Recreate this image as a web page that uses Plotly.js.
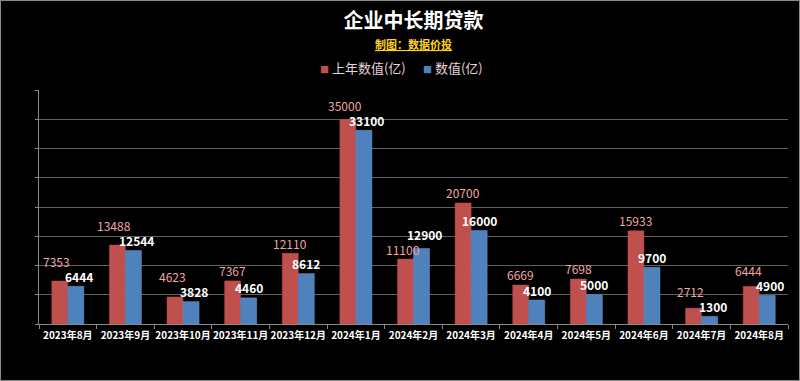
<!DOCTYPE html>
<html>
<head>
<meta charset="utf-8">
<script src="https://cdn.plot.ly/plotly-3.0.1.min.js"></script>
<style>
  html, body { margin: 0; padding: 0; background: #000; }
  #frame { width: 800px; height: 381px; box-sizing: border-box; border: 1px solid #8a8a8a; background: #000; }
  #chart { width: 798px; height: 379px; }
</style>
</head>
<body>
<div id="frame"><div id="chart"></div></div>
<script>
const categories = ["2023年8月","2023年9月","2023年10月","2023年11月","2023年12月","2024年1月","2024年2月","2024年3月","2024年4月","2024年5月","2024年6月","2024年7月","2024年8月"];
const lastYearValues = [7353, 13488, 4623, 7367, 12110, 35000, 11100, 20700, 6669, 7698, 15933, 2712, 6444];
const currentValues = [6444, 12544, 3828, 4460, 8612, 33100, 12900, 16000, 4100, 5000, 9700, 1300, 4900];
const seriesNames = ["上年数值(亿)", "数值(亿)"];
const seriesColors = ['#C0504D', '#4F81BD'];

const cjk = '"Noto Sans CJK SC", "Noto Sans", sans-serif';

const W = 798, H = 379;
const M = { l: 38, r: 11, t: 89, b: 56 };
const yMax = 40000;
const plotH = H - M.t - M.b;
const pxPerUnit = plotH / yMax;

const traces = [
  {
    type: 'bar', name: seriesNames[0], x: categories, y: lastYearValues,
    marker: { color: seriesColors[0], line: { color: '#B54A47', width: 0.5 } },
    showlegend: false, hoverinfo: 'none'
  },
  {
    type: 'bar', name: seriesNames[1], x: categories, y: currentValues,
    marker: { color: seriesColors[1], line: { color: '#6B97CF', width: 0.5 } },
    showlegend: false, hoverinfo: 'none'
  }
];

// value labels: placed above each bar, nudged apart when the pair collides
const annotations = [];
const baseGap = 10, minSep = 15, barOffsetPx = 8, spreadPx = 3;
categories.forEach((c, i) => {
  const r = lastYearValues[i], b = currentValues[i];
  const rTop = r * pxPerUnit, bTop = b * pxPerUnit;
  let rL = rTop + baseGap, bL = bTop + baseGap, spread = 0;
  if (Math.abs(rL - bL) < minSep) {
    if (r >= b) rL = bL + minSep; else bL = rL + minSep;
    spread = spreadPx;
  }
  annotations.push({
    x: c, y: r, xref: 'x', yref: 'y', text: String(r), showarrow: false,
    xanchor: 'center', yanchor: 'middle', xshift: -barOffsetPx - spread, yshift: rL - rTop,
    font: { family: cjk, size: 12, color: '#F0A6A6' }
  });
  annotations.push({
    x: c, y: b, xref: 'x', yref: 'y', text: '<b>' + b + '</b>', showarrow: false,
    xanchor: 'center', yanchor: 'middle', xshift: barOffsetPx + spread, yshift: bL - bTop,
    font: { family: cjk, size: 12, color: '#FFFFFF' }
  });
});

// subtitle
annotations.push({
  text: '<b><u>制图：数据价投</u></b>',
  xref: 'paper', yref: 'paper', x: 0.5, y: 1 + (M.t - 43) / plotH,
  xanchor: 'center', yanchor: 'middle', showarrow: false,
  font: { family: cjk, size: 11, color: '#FFD21F' }
});

// legend (square swatch + name), built from series names/colours
const legendY = 1 + (M.t - 67) / plotH;
annotations.push({
  text: '<span style="color:' + seriesColors[0] + ';font-size:9px">■</span> ' + seriesNames[0],
  xref: 'paper', yref: 'paper', x: (408 - 1 - M.l) / (W - M.l - M.r), y: legendY,
  xanchor: 'right', yanchor: 'middle', showarrow: false,
  font: { family: cjk, size: 13, color: '#E6D3DA' }
});
annotations.push({
  text: '<span style="color:' + seriesColors[1] + ';font-size:9px">■</span> ' + seriesNames[1],
  xref: 'paper', yref: 'paper', x: (421 - 1 - M.l) / (W - M.l - M.r), y: legendY,
  xanchor: 'left', yanchor: 'middle', showarrow: false,
  font: { family: cjk, size: 13, color: '#E6D3DA' }
});

const layout = {
  width: W, height: H,
  paper_bgcolor: '#000', plot_bgcolor: '#000',
  margin: M,
  barmode: 'group', bargap: 0.444, bargroupgap: 0,
  showlegend: false,
  title: {
    text: '<b>企业中长期贷款</b>',
    font: { family: cjk, size: 20, color: '#FFFFFF' },
    x: 0.5, xanchor: 'center', xref: 'paper',
    y: 1 - 20 / H, yanchor: 'middle', yref: 'container'
  },
  annotations: annotations,
  xaxis: {
    type: 'category', tickson: 'boundaries', ticks: 'outside', ticklen: 4, tickcolor: '#888',
    showline: true, linecolor: '#888', linewidth: 1,
    showgrid: false, tickangle: 0, ticklabelstandoff: 2,
    tickfont: { family: cjk, size: 10, color: '#FFFFFF', weight: 'bold' },
    fixedrange: true
  },
  yaxis: {
    range: [0, yMax], dtick: 5000, showticklabels: false,
    showgrid: true, gridcolor: '#5f5f5f', gridwidth: 1,
    showline: true, linecolor: '#888', linewidth: 1,
    ticks: 'outside', ticklen: 3, tickcolor: '#888',
    zeroline: false, fixedrange: true
  }
};

Plotly.newPlot('chart', traces, layout, { displayModeBar: false, staticPlot: true });
</script>
</body>
</html>
